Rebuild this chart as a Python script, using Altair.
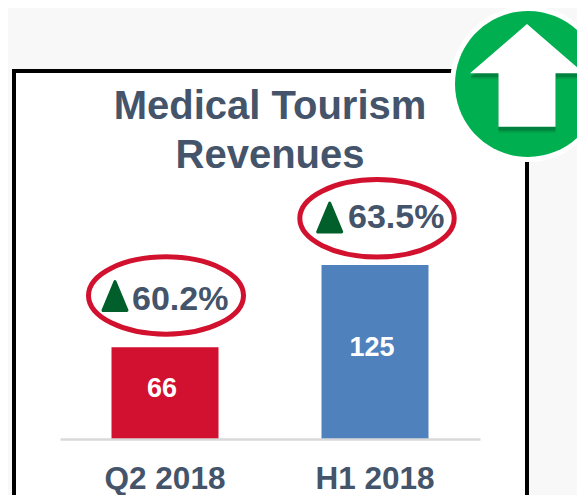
import altair as alt
import pandas as pd

categories = ["Q2 2018", "H1 2018"]
values = [66, 125]
bar_colors = ["#d2102f", "#4f81bd"]
changes = ["60.2%", "63.5%"]
title_lines = ["Medical Tourism", "Revenues"]

FONT = "Liberation Sans"
INK = "#44546a"
RED = "#d2112f"
OX, OY = 60, 91  # page position of the plot's top-left corner


def px(x):
    return x - OX


def py(y):
    return y - OY


one = pd.DataFrame({"k": [0]})
df = pd.DataFrame({"cat": categories, "val": values, "color": bar_colors})
df["mid"] = df["val"] / 2

yscale = alt.Scale(domain=[0, 250], nice=False, zero=True)
xenc = alt.X(
    "cat:N",
    sort=categories,
    title=None,
    scale=alt.Scale(paddingInner=0.49, paddingOuter=0.245),
    axis=alt.Axis(
        labelAngle=0,
        labelFont=FONT,
        labelFontSize=31.5,
        labelFontWeight="bold",
        labelColor=INK,
        labelPadding=24,
        labelBaseline="top",
        ticks=False,
        domainColor="#d9d9d9",
        domainWidth=2.5,
        zindex=1,
    ),
)


def sym(path, x, y, half, **kw):
    return alt.Chart(one).mark_point(shape=path, filled=kw.pop("filled", True), opacity=kw.pop("opacity", 1), **kw).encode(
        x=alt.value(px(x)), y=alt.value(py(y)), size=alt.value((2 * half) ** 2)
    )


ARROW = "M0,-0.895L1,-0.03L0.5,-0.03L0.5,0.907L-0.5,0.907L-0.5,-0.03L-1,-0.03Z"
TRI = "M0,-1.2L1,1.2L-1,1.2Z"
CIRC = "M-1,0A1,1,0,1,1,1,0A1,1,0,1,1,-1,0Z"

frame = alt.Chart(one).mark_rect(fill="white", stroke="black", strokeWidth=4).encode(
    x=alt.value(px(14)), x2=alt.value(px(527)), y=alt.value(py(71)), y2=alt.value(py(520))
)

bars = alt.Chart(df).mark_bar(size=107).encode(
    x=xenc, y=alt.Y("val:Q", scale=yscale, axis=None), color=alt.Color("color:N", scale=None)
)
bar_text = alt.Chart(df).mark_text(
    font=FONT, fontSize=27, fontWeight="bold", color="white", dx=-3, dy=-4
).encode(
    x=alt.X("cat:N", sort=categories),
    y=alt.Y("mid:Q", scale=yscale, axis=None),
    text=alt.Text("val:Q"),
)

layers = [frame, bars, bar_text]

for line, base in zip(title_lines, [118.5, 167.5]):
    layers.append(
        alt.Chart(pd.DataFrame({"t": [line]})).mark_text(
            font=FONT, fontSize=40, fontWeight="bold", color=INK, align="center", baseline="alphabetic"
        ).encode(x=alt.value(px(270)), y=alt.value(py(base)), text="t:N")
    )

ellipse_pos = [(166, 295.5, 77.5, 38.7), (377, 218.3, 77.2, 38.7)]
tri_pos = [(115, 296), (329.7, 217.5)]
text_pos = [(132, 310), (348, 228)]
for txt, (ex, ey, a, b), (tx, ty), (lx, ly) in zip(changes, ellipse_pos, tri_pos, text_pos):
    path = f"M-1,0A1,{b / a:.3f},0,1,1,1,0A1,{b / a:.3f},0,1,1,-1,0Z"
    layers.append(sym(path, ex, ey, a, filled=False, stroke=RED, strokeWidth=5))
    layers.append(sym(TRI, tx, ty, 12, color="#005f2a", stroke="#005f2a", strokeWidth=3, strokeJoin="round"))
    layers.append(
        alt.Chart(pd.DataFrame({"t": [txt]})).mark_text(
            font=FONT, fontSize=34, fontWeight="bold", color=INK, align="left", baseline="alphabetic"
        ).encode(x=alt.value(px(lx)), y=alt.value(py(ly)), text="t:N")
    )

layers.append(sym(CIRC, 528, 84, 78, color="white"))
layers.append(sym(CIRC, 528, 84, 73, color="#00b050"))
layers.append(sym(ARROW, 527, 81, 57, color="#00803a", opacity=0.35))
layers.append(sym(ARROW, 527, 79, 57, color="#00703a", opacity=0.6))
layers.append(sym(ARROW, 527, 75, 57, color="white"))

chart = (
    alt.layer(*layers)
    .properties(
        width=420,
        height=348,
        padding={"left": 52, "top": 83, "right": 97, "bottom": 56},
        autosize=alt.AutoSizeParams(type="none"),
        background="#f8f8f8",
    )
    .configure_view(stroke=None)
)

chart.save("out.html", embed_options={"renderer": "svg", "actions": False})
